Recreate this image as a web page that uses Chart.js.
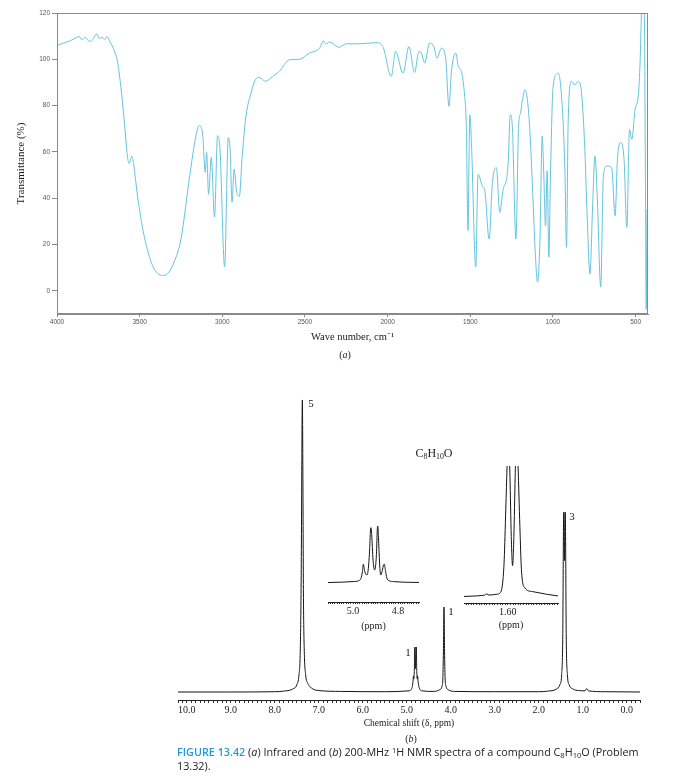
<!DOCTYPE html>
<html>
<head>
<meta charset="utf-8">
<script src="https://cdn.jsdelivr.net/npm/chart.js@4.4.1/dist/chart.umd.min.js"></script>
<style>
  html, body { margin: 0; padding: 0; background: #fff; }
  #page { position: relative; width: 692px; height: 782px; overflow: hidden; background: #fff; }
  canvas { position: absolute; }
  .lbl {
    position: absolute; transform: translate(-50%, -50%);
    font-family: "Liberation Serif", "Times New Roman", serif;
    color: #1a1a1a; white-space: nowrap; line-height: 1;
  }
  .lbl sub { font-size: 65%; vertical-align: -0.25em; }
  #caption {
    position: absolute; left: 177px; top: 745px; width: 466px;
    font-family: "Open Sans", "Noto Sans", sans-serif; font-size: 10.8px;
    line-height: 14px; color: #222;
  }
  #caption b { color: #1e9ad6; font-weight: 600; }
  #caption sup { font-size: 70%; vertical-align: 0.45em; line-height: 0; }
  #caption sub { font-size: 70%; vertical-align: -0.2em; line-height: 0; }
</style>
</head>
<body>
<div id="page">
  <canvas id="ir" width="692" height="350" style="left:0;top:0;"></canvas>
  <canvas id="nmr" width="692" height="355" style="left:0;top:380px;"></canvas>
  <canvas id="insetQ" width="110" height="125" style="left:320px;top:510px;"></canvas>
  <canvas id="insetD" width="115" height="180" style="left:455px;top:455px;"></canvas>

  <div class="lbl" style="left:345px;top:355px;font-size:10px;">(<i>a</i>)</div>
  <div class="lbl" style="left:311px;top:403px;font-size:11px;">5</div>
  <div class="lbl" style="left:434px;top:454px;font-size:12px;">C<sub>8</sub>H<sub>10</sub>O</div>
  <div class="lbl" style="left:572px;top:516px;font-size:11px;">3</div>
  <div class="lbl" style="left:451px;top:611px;font-size:11px;">1</div>
  <div class="lbl" style="left:408px;top:652px;font-size:11px;">1</div>
  <div class="lbl" style="left:411px;top:739px;font-size:10px;">(<i>b</i>)</div>

  <div id="caption"><b>FIGURE 13.42</b> (<i>a</i>) Infrared and (<i>b</i>) 200-MHz <sup>1</sup>H NMR spectra of a compound C<sub>8</sub>H<sub>10</sub>O (Problem 13.32).</div>
</div>

<script>
// ---- IR spectrum (a) ----
const IR_WAVENUMBER = [
  4000, 3960, 3920, 3880, 3867, 3850, 3830, 3810, 3796, 3780, 3760, 3745, 3727, 3712, 3697, 3680,
  3667, 3650, 3636, 3614, 3594, 3574, 3564, 3547, 3537, 3513, 3473, 3422, 3390, 3362, 3330, 3301,
  3250, 3200, 3160, 3140, 3120, 3103, 3095, 3083, 3067, 3047, 3029, 3014, 2986, 2964, 2953, 2941,
  2929, 2913, 2897, 2881, 2857, 2826, 2800, 2776, 2740, 2695, 2655, 2594, 2533, 2473, 2412, 2388,
  2372, 2352, 2295, 2250, 2170, 2069, 2029, 1978, 1952, 1907, 1871, 1837, 1811, 1796, 1776, 1746,
  1721, 1701, 1675, 1649, 1629, 1614, 1588, 1572, 1554, 1534, 1524, 1514, 1503, 1493, 1467, 1453,
  1427, 1412, 1386, 1366, 1342, 1322, 1301, 1281, 1271, 1258, 1245, 1224, 1208, 1196, 1184, 1170,
  1156, 1140, 1120, 1109, 1093, 1079, 1065, 1055, 1045, 1035, 1025, 1015, 999, 969, 948, 928,
  918, 908, 888, 867, 847, 827, 807, 793, 776, 760, 746, 732, 711, 695, 675, 645,
  624, 610, 590, 570, 553, 537, 523, 503, 483, 473, 462, 448, 440, 436, 430, 425
];
const IR_TRANSMITTANCE = [
  106, 107, 108, 109.5, 109.8, 108.5, 109.5, 108, 107.7, 109, 111, 109, 109.5, 108.5, 109.8, 107.5,
  106, 103, 99.8, 88.3, 74, 58.2, 55, 58.2, 55, 41, 23.8, 10.9, 7.5, 6.6, 7.5, 10.9,
  22.4, 48.2, 66.8, 71.4, 68.3, 51.2, 59.8, 41.7, 57.6, 31.9, 67, 61, 10.3, 66.2, 61, 38.3,
  52.5, 42.6, 40.8, 56.8, 75.4, 85.5, 91.2, 92.2, 90.5, 92.6, 94.8, 99.8, 100, 102.7, 104.8, 108,
  106.7, 107.5, 105.2, 106.7, 106.7, 107.2, 105.5, 92.6, 103.4, 94, 105.5, 94.3, 103.4, 102.7, 98.4, 107,
  105.5, 100.5, 104.8, 100.5, 79.7, 94.8, 102.7, 96.9, 94.8, 84, 71, 26, 76, 64, 10.3, 50.3,
  45.3, 43.2, 22.4, 46.8, 53.2, 33.9, 43.9, 48.2, 55, 76, 70, 22.4, 71, 76.9, 82.6, 86.9,
  83.3, 69.7, 38.3, 19.5, 3.8, 21, 66.8, 49.6, 28, 51.8, 14.5, 49.6, 88.3, 94, 84, 52.5,
  18.8, 72.6, 90.5, 89, 90.5, 85.5, 61, 32.4, 7.3, 36.7, 58.2, 41, 1.6, 49.6, 53.9, 53.2,
  32.4, 56.8, 64, 56.8, 27.4, 69.7, 65.4, 78.3, 84.7, 98.4, 122, 122, 40, -8, 35, 30
];
const IR_X_TICKS = [4000, 3500, 3000, 2500, 2000, 1500, 1000, 500];
const IR_Y_TICKS = [0, 20, 40, 60, 80, 100, 120];

// ---- 1H NMR spectrum (b), relative intensity (tallest peak = 100) ----
const NMR_PPM = [
  10.2, 9.0, 8.0, 7.8, 7.6, 7.5, 7.45, 7.42, 7.40, 7.385, 7.374, 7.362, 7.35, 7.33, 7.30, 7.25,
  7.15, 7.0, 6.5, 5.5, 4.95, 4.88, 4.86, 4.848, 4.84, 4.83, 4.817, 4.805, 4.785, 4.773, 4.762, 4.755,
  4.742, 4.72, 4.65, 4.4, 4.25, 4.2, 4.18, 4.168, 4.155, 4.142, 4.13, 4.11, 4.06, 3.9, 3.0, 2.0,
  1.8, 1.6, 1.52, 1.48, 1.455, 1.44, 1.432, 1.416, 1.40, 1.392, 1.377, 1.35, 1.31, 1.22, 1.1, 0.95,
  0.91, 0.87, 0.5, -0.3
];
const NMR_INTENSITY = [
  0, 0, 0.1, 0.3, 1, 2.5, 6, 15, 40, 80, 100, 75, 35, 14, 6, 3,
  1.2, 0.5, 0.2, 0.1, 0.4, 1.5, 3.5, 5.5, 4.5, 7, 15.4, 8, 15.4, 7, 4.5, 5.5,
  3.5, 1.5, 0.4, 0.2, 0.8, 2, 5, 14, 29.1, 14, 5, 2, 0.8, 0.2, 0.1, 0.1,
  0.3, 1, 2.5, 6, 20, 55, 61.6, 45, 61.6, 55, 20, 6, 2.5, 1, 0.5, 0.4,
  1.2, 0.4, 0.1, 0
];
const NMR_X_LABELS = [10, 9, 8, 7, 6, 5, 4, 3, 2, 1, 0];

// inset: quartet near 4.9 ppm (tall lines = 100)
const QUART_PPM = [
  5.111, 5.05, 5.0, 4.975, 4.965, 4.958, 4.954, 4.949, 4.942, 4.938, 4.932, 4.926, 4.922, 4.920, 4.917, 4.911,
  4.906, 4.904, 4.901, 4.896, 4.892, 4.890, 4.887, 4.882, 4.878, 4.876, 4.870, 4.864, 4.861, 4.856, 4.850, 4.84,
  4.82, 4.78, 4.707
];
const QUART_INTENSITY = [
  0.8, 1.5, 2.5, 4, 8, 20, 33, 22, 15, 14, 25, 60, 95, 97, 85, 40,
  24, 23, 26, 50, 95, 100, 80, 35, 15, 14, 22, 32, 33, 22, 9, 4,
  2.5, 1.5, 1
];
const QUART_LABELS = [5.0, 4.8];

// inset: doublet near 1.6 ppm (lines run off the top of the box)
const DOUB_PPM = [
  1.768, 1.72, 1.70, 1.69, 1.681, 1.672, 1.65, 1.631, 1.620, 1.614, 1.608, 1.603, 1.598, 1.592, 1.587, 1.582,
  1.577, 1.572, 1.567, 1.561, 1.554, 1.548, 1.535, 1.505, 1.452, 1.408
];
const DOUB_INTENSITY = [
  0.5, 1, 1.5, 1.8, 3, 1.8, 2.5, 3.7, 14, 37, 87, 130, 170, 120, 60, 31,
  60, 120, 170, 130, 70, 27, 9, 5.3, 2.7, 1
];
const DOUB_LABELS = [1.60];

const SERIF = "'Liberation Serif', 'Times New Roman', serif";
const SANS = "'Liberation Sans', Arial, sans-serif";

function pairs(xs, ys) {
  return xs.map((x, i) => ({ x: x, y: ys[i] }));
}

// dense minor ticks for the NMR axes, labels only where listed
function minorTicks(fromHundredths, toHundredths, stepHundredths) {
  const out = [];
  for (let i = fromHundredths; i <= toHundredths; i += stepHundredths) out.push({ value: i / 100 });
  return out;
}
function labelFor(list, digits) {
  return (v) => {
    const hit = list.find((l) => Math.abs(l - v) < 1e-6);
    return hit === undefined ? "" : hit.toFixed(digits);
  };
}

// thin grey frame around the IR plot area
const frameBox = {
  id: "frameBox",
  afterDatasetsDraw(chart) {
    const { ctx, chartArea: a } = chart;
    ctx.save();
    ctx.strokeStyle = "#8a8a8a";
    ctx.lineWidth = 1;
    ctx.strokeRect(Math.round(a.left) + 0.5, Math.round(a.top) + 0.5,
      Math.round(a.right - a.left) - 1, Math.round(a.bottom - a.top) - 1);
    ctx.restore();
  },
};

function lineSet(xs, ys, color) {
  return {
    data: pairs(xs, ys),
    borderColor: color,
    borderWidth: 1,
    pointRadius: 0,
    fill: false,
    cubicInterpolationMode: "monotone",
  };
}

const common = {
  responsive: false,
  animation: false,
  events: [],
  plugins: { legend: { display: false }, tooltip: { enabled: false } },
};

// ---- (a) IR ----
new Chart(document.getElementById("ir"), {
  type: "line",
  data: { datasets: [lineSet(IR_WAVENUMBER, IR_TRANSMITTANCE, "#62c4df")] },
  plugins: [frameBox],
  options: {
    ...common,
    layout: { padding: { left: 0, right: 44, top: 13, bottom: 0 } },
    scales: {
      x: {
        type: "linear", reverse: true, min: 425, max: 4000,
        afterBuildTicks: (s) => { s.ticks = IR_X_TICKS.map((v) => ({ value: v })); },
        afterFit: (s) => { s.height = 36; },
        ticks: {
          autoSkip: false, maxRotation: 0, padding: 1, color: "#555",
          font: { family: SANS, size: 6.5 }, callback: (v) => String(v),
        },
        grid: { drawOnChartArea: false, tickLength: 3, tickColor: "#888" },
        border: { color: "#8a8a8a" },
        title: {
          display: true, text: "Wave number, cm\u207B\u00B9", color: "#1a1a1a",
          font: { family: SERIF, size: 10.5 }, padding: { top: 0, bottom: 6 },
        },
      },
      y: {
        min: -10, max: 120,
        afterBuildTicks: (s) => { s.ticks = IR_Y_TICKS.map((v) => ({ value: v })); },
        afterFit: (s) => { s.width = 57; },
        ticks: { padding: 2, color: "#555", font: { family: SANS, size: 6.5 }, callback: (v) => String(v) },
        grid: { drawOnChartArea: false, tickLength: 5, tickColor: "#888" },
        border: { color: "#8a8a8a" },
        title: {
          display: true, text: "Transmittance (%)", color: "#1a1a1a",
          font: { family: SERIF, size: 11 }, padding: { top: 15, bottom: 0 },
        },
      },
    },
  },
});

// ---- (b) NMR ----
new Chart(document.getElementById("nmr"), {
  type: "line",
  data: { datasets: [lineSet(NMR_PPM, NMR_INTENSITY, "#141414")] },
  options: {
    ...common,
    layout: { padding: { left: 178, right: 52, top: 15, bottom: 0 } },
    scales: {
      x: {
        type: "linear", reverse: true, min: -0.3, max: 10.2,
        afterBuildTicks: (s) => { s.ticks = minorTicks(-30, 1020, 10); },
        afterFit: (s) => { s.height = 35; },
        ticks: {
          autoSkip: false, maxRotation: 0, padding: 1, color: "#222",
          font: { family: SERIF, size: 10 }, callback: labelFor(NMR_X_LABELS, 1),
        },
        grid: { drawOnChartArea: false, tickLength: 3, tickColor: "#333" },
        border: { color: "#222" },
        title: {
          display: true, text: "Chemical shift (\u03B4, ppm)", color: "#1a1a1a",
          font: { family: SERIF, size: 9.5 }, padding: { top: 0, bottom: 6 },
        },
      },
      y: { display: false, min: -2.74, max: 101.7 },
    },
  },
});

function insetChart(id, xs, ys, min, max, yMin, yMax, labels, digits, pad, axisH, titlePad) {
  return new Chart(document.getElementById(id), {
    type: "line",
    data: { datasets: [lineSet(xs, ys, "#141414")] },
    options: {
      ...common,
      layout: { padding: pad },
      scales: {
        x: {
          type: "linear", reverse: true, min: min, max: max,
          afterBuildTicks: (s) => {
            s.ticks = minorTicks(Math.ceil(min * 100), Math.floor(max * 100), 1);
          },
          afterFit: (s) => { s.height = axisH; },
          ticks: {
            autoSkip: false, maxRotation: 0, padding: 1, color: "#222",
            font: { family: SERIF, size: 10 }, callback: labelFor(labels, digits),
          },
          grid: { drawOnChartArea: false, tickLength: 2, tickColor: "#333" },
          border: { color: "#222" },
          title: {
            display: true, text: "(ppm)", color: "#1a1a1a",
            font: { family: SERIF, size: 10 }, padding: { top: 0, bottom: titlePad },
          },
        },
        y: { display: false, min: yMin, max: yMax },
      },
    },
  });
}

insetChart("insetQ", QUART_PPM, QUART_INTENSITY, 4.707, 5.111, -33.3, 110.5,
  QUART_LABELS, 1, { left: 8, right: 11, top: 10, bottom: 0 }, 33, 3);
insetChart("insetD", DOUB_PPM, DOUB_INTENSITY, 1.408, 1.768, -6, 130,
  DOUB_LABELS, 2, { left: 9, right: 12, top: 11, bottom: 0 }, 32, 4);
</script>
</body>
</html>
